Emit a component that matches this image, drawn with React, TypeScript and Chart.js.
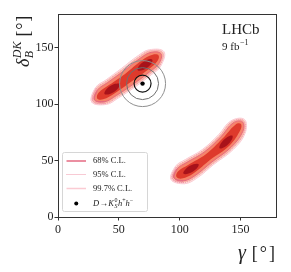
import React, { useEffect, useRef } from 'react';
import { Chart, registerables } from 'chart.js';

Chart.register(...registerables);

// ---------- data (gamma [deg], delta_B^DK [deg]) ----------
const xTickValues = [0, 50, 100, 150];
const yTickValues = [0, 50, 100, 150];
const axisMin = 0;
const axisMax = 180;

// D -> K0S h+ h- measurement
const pointGamma = [69.5];
const pointDelta = [118.3];

type Pt = [number, number];

// upper-left solution
const upperCL997: Pt[] = [[27.7, 102.0], [39.7, 99.8], [49.4, 105.4], [63.0, 115.0], [77.1, 126.5], [84.4, 133.7], [87.1, 146.6], [75.0, 148.3], [65.9, 143.1], [52.0, 131.6], [39.5, 121.6], [30.9, 114.8]];
const upperCL95: Pt[] = [[28.7, 102.7], [39.2, 100.7], [48.8, 106.3], [62.4, 116.0], [76.4, 127.5], [83.8, 134.6], [86.1, 145.9], [75.6, 147.4], [66.6, 142.1], [52.7, 130.6], [40.0, 120.7], [31.4, 113.9]];
const upperCL68: Pt[] = [[30.1, 103.7], [38.3, 102.2], [47.9, 107.7], [61.4, 117.4], [75.5, 128.9], [82.9, 136.0], [84.7, 144.8], [76.5, 146.0], [67.5, 140.7], [53.6, 129.2], [40.9, 119.3], [32.3, 112.4]];
const upperCore: Pt[] = [[32.2, 105.1], [37.1, 104.3], [46.7, 109.8], [59.9, 119.7], [74.2, 130.8], [81.6, 138.1], [82.7, 143.3], [77.8, 143.9], [68.8, 138.8], [55.1, 126.9], [42.2, 117.2], [33.5, 110.3]];
const upperPeakA: Pt[] = [[50.6, 117.9], [48.9, 113.5], [42.7, 109.1], [38.2, 109.1], [40.0, 113.5], [46.2, 117.9]];
const upperPeakB: Pt[] = [[77.5, 139.5], [76.0, 135.0], [70.0, 130.3], [65.5, 130.1], [67.0, 134.6], [73.0, 139.3]];

// lower-right solution
const lowerCL997: Pt[] = [[93.0, 33.3], [103.9, 29.5], [114.0, 34.3], [128.0, 46.6], [144.1, 59.9], [153.8, 74.3], [153.3, 86.5], [142.2, 85.3], [132.1, 73.1], [118.6, 59.8], [104.6, 50.9], [96.7, 45.1]];
const lowerCL95: Pt[] = [[94.0, 33.9], [103.4, 30.6], [113.4, 35.4], [127.4, 47.4], [143.3, 60.8], [153.1, 75.0], [152.6, 85.6], [142.9, 84.6], [132.9, 72.2], [119.2, 59.0], [105.2, 49.9], [97.2, 44.0]];
const lowerCL68: Pt[] = [[95.4, 34.6], [102.8, 32.0], [112.6, 36.7], [126.5, 48.8], [142.3, 61.9], [152.0, 76.1], [151.6, 84.4], [144.0, 83.5], [133.9, 71.1], [120.2, 57.6], [106.0, 48.5], [97.8, 42.6]];
const lowerCore: Pt[] = [[97.3, 35.7], [101.8, 34.1], [111.5, 38.8], [125.1, 50.7], [141.0, 63.4], [150.2, 77.7], [150.2, 82.6], [145.8, 81.9], [135.2, 69.6], [121.5, 55.7], [107.2, 46.4], [98.8, 40.5]];
const lowerPeakA: Pt[] = [[115.6, 46.7], [113.6, 42.6], [107.3, 38.5], [103.0, 38.5], [105.0, 42.6], [111.3, 46.7]];
const lowerPeakB: Pt[] = [[143.4, 72.1], [142.3, 67.6], [137.0, 62.0], [132.8, 60.9], [133.9, 65.4], [139.2, 71.0]];

const legendLabels = ['68% C.L.', '95% C.L.', '99.7% C.L.'];
const experimentLabel = 'LHCb';
const lumiLabel = '9 fb';
const lumiExponent = '\u22121';

// ---------- styles ----------
const SERIF = '"Liberation Serif", "DejaVu Serif", serif';
const TEXT = '#222';
const C68 = '#e46a82';
const C95 = '#f094a9';
const C997 = '#fbcbd3';
const F997 = '#fee4de';
const F95 = '#fcb7a4';
const F68 = '#f5836a';
const FCORE = '#de3a2c';
const FPEAK = '#a8121a';

const loop = (pts: Pt[]) => {
  const d = pts.map(([x, y]) => ({ x, y }));
  return [d[d.length - 1], ...d, d[0], d[1]];
};

const contour = (pts: Pt[], fill: string, line: string, width: number, dash: number[], order: number) => ({
  data: loop(pts),
  showLine: true,
  fill: 'shape',
  backgroundColor: fill,
  borderColor: line,
  borderWidth: width,
  borderDash: dash,
  tension: 0.4,
  pointRadius: 0,
  pointHoverRadius: 0,
  order,
});

const ring = (r: number, color: string, w: number, order: number) => ({
  data: pointGamma.map((g, i) => ({ x: g, y: pointDelta[i] })),
  showLine: false,
  pointRadius: r,
  pointHoverRadius: r,
  pointStyle: 'circle',
  backgroundColor: 'rgba(0,0,0,0)',
  borderColor: color,
  pointBorderWidth: w,
  borderWidth: w,
  order,
});

type Piece = { t: string; font: string; dy?: number; gap?: number; sub?: string; subFont?: string; subDy?: number };

function drawPieces(ctx: CanvasRenderingContext2D, pieces: Piece[], x: number, y: number) {
  for (const p of pieces) {
    ctx.font = p.font;
    ctx.fillText(p.t, x, y + (p.dy || 0));
    let w = ctx.measureText(p.t).width;
    if (p.sub !== undefined) {
      ctx.font = p.subFont || p.font;
      ctx.fillText(p.sub, x, y + (p.subDy || 0));
      w = Math.max(w, ctx.measureText(p.sub).width);
    }
    x += w + (p.gap || 0);
  }
  return x;
}

function piecesWidth(ctx: CanvasRenderingContext2D, pieces: Piece[]) {
  let w = 0;
  for (const p of pieces) {
    ctx.font = p.font;
    let pw = ctx.measureText(p.t).width;
    if (p.sub !== undefined) {
      ctx.font = p.subFont || p.font;
      pw = Math.max(pw, ctx.measureText(p.sub).width);
    }
    w += pw + (p.gap || 0);
  }
  return w;
}

const overlay = {
  id: 'overlay',
  afterDraw(chart: any) {
    const { ctx, chartArea: a } = chart;
    ctx.save();
    // frame
    ctx.strokeStyle = '#333';
    ctx.lineWidth = 1;
    ctx.strokeRect(Math.round(a.left) + 0.5, Math.round(a.top) + 0.5, Math.round(a.right - a.left) - 1, Math.round(a.bottom - a.top));

    ctx.fillStyle = TEXT;
    ctx.textBaseline = 'alphabetic';
    ctx.textAlign = 'left';

    // LHCb label
    ctx.font = `15px ${SERIF}`;
    ctx.fillText(experimentLabel, a.right - 55, a.top + 20);
    ctx.font = `11px ${SERIF}`;
    ctx.fillText(lumiLabel, a.right - 55, a.top + 36);
    const lw = ctx.measureText(lumiLabel).width;
    ctx.font = `8px ${SERIF}`;
    ctx.fillText(lumiExponent, a.right - 55 + lw + 0.5, a.top + 31);

    // x title
    const xt: Piece[] = [
      { t: '\u03b3', font: `italic 20px ${SERIF}`, gap: 6 },
      { t: '[', font: `18px ${SERIF}`, gap: 2 },
      { t: '\u00b0', font: `18px ${SERIF}`, gap: 2 },
      { t: ']', font: `18px ${SERIF}` },
    ];
    const xw = piecesWidth(ctx, xt);
    drawPieces(ctx, xt, a.right - 2 - xw, a.bottom + 42);

    // y title
    ctx.save();
    ctx.translate(29, a.top + 53);
    ctx.rotate(-Math.PI / 2);
    const yt: Piece[] = [
      { t: '\u03b4', font: `italic 18px ${SERIF}`, gap: 0.5 },
      { t: 'DK', font: `italic 12px ${SERIF}`, dy: -8, sub: 'B', subFont: `italic 12px ${SERIF}`, subDy: 4, gap: 5 },
      { t: '[', font: `18px ${SERIF}`, gap: 0.8 },
      { t: '\u00b0', font: `18px ${SERIF}`, gap: 0.8 },
      { t: ']', font: `18px ${SERIF}` },
    ];
    drawPieces(ctx, yt, 0, 0);
    ctx.restore();

    // legend
    const bx = a.left + 4.5;
    const by = a.bottom - 64.5;
    ctx.beginPath();
    if ((ctx as any).roundRect) (ctx as any).roundRect(bx, by, 85, 59, 2);
    else ctx.rect(bx, by, 85, 59);
    ctx.fillStyle = 'rgba(255,255,255,0.85)';
    ctx.fill();
    ctx.strokeStyle = '#d6d6d6';
    ctx.lineWidth = 1;
    ctx.stroke();

    const rows = [a.bottom - 56, a.bottom - 42.5, a.bottom - 28.5, a.bottom - 13.5];
    const lx0 = a.left + 8.5;
    const lx1 = a.left + 28;
    const styles = [
      { c: C68, w: 1.5, d: [] as number[] },
      { c: C95, w: 1.2, d: [1, 1] },
      { c: C997, w: 1.5, d: [] as number[] },
    ];
    styles.forEach((s, i) => {
      ctx.beginPath();
      ctx.strokeStyle = s.c;
      ctx.lineWidth = s.w;
      ctx.setLineDash(s.d);
      ctx.moveTo(lx0, rows[i]);
      ctx.lineTo(lx1, rows[i]);
      ctx.stroke();
    });
    ctx.setLineDash([]);
    ctx.fillStyle = '#000';
    ctx.beginPath();
    ctx.arc((lx0 + lx1) / 2, rows[3], 2, 0, Math.PI * 2);
    ctx.fill();

    ctx.fillStyle = TEXT;
    ctx.textBaseline = 'middle';
    const tx = a.left + 35;
    ctx.font = `8.5px ${SERIF}`;
    legendLabels.forEach((t, i) => ctx.fillText(t, tx, rows[i]));
    const small = `6px ${SERIF}`;
    const it = `italic 8.5px ${SERIF}`;
    drawPieces(ctx, [
      { t: 'D', font: it, gap: 0.3 },
      { t: '\u2192', font: `8.5px ${SERIF}`, gap: 0.3 },
      { t: 'K', font: it, gap: 0.5 },
      { t: '0', font: small, dy: -3, sub: 'S', subFont: `italic 6px ${SERIF}`, subDy: 2.5, gap: 0.5 },
      { t: 'h', font: it },
      { t: '+', font: small, dy: -3 },
      { t: 'h', font: it },
      { t: '\u2212', font: small, dy: -3 },
    ], tx, rows[3]);
    ctx.restore();
  },
};

const zeroPadding = (s: any) => {
  s.paddingTop = 0;
  s.paddingBottom = 0;
  s.paddingLeft = 0;
  s.paddingRight = 0;
};

export default function App() {
  const ref = useRef<HTMLCanvasElement>(null);
  useEffect(() => {
    const canvas = ref.current;
    if (!canvas) return;
    const tickFont = { family: SERIF, size: 12 };
    const chart = new Chart(canvas, {
      type: 'scatter',
      data: {
        datasets: [
          contour(upperCL997, F997, C997, 1, [], 20) as any,
          contour(lowerCL997, F997, C997, 1, [], 20) as any,
          contour(upperCL95, F95, C95, 1, [1, 1], 19) as any,
          contour(lowerCL95, F95, C95, 1, [1, 1], 19) as any,
          contour(upperCL68, F68, C68, 1, [], 18) as any,
          contour(lowerCL68, F68, C68, 1, [], 18) as any,
          contour(upperCore, FCORE, FCORE, 0, [], 17) as any,
          contour(lowerCore, FCORE, FCORE, 0, [], 17) as any,
          contour(upperPeakA, FPEAK, FPEAK, 0, [], 16) as any,
          contour(upperPeakB, FPEAK, FPEAK, 0, [], 16) as any,
          contour(lowerPeakA, FPEAK, FPEAK, 0, [], 16) as any,
          contour(lowerPeakB, FPEAK, FPEAK, 0, [], 16) as any,
          ring(23, '#8f8f8f', 1, 4) as any,
          ring(16, '#707070', 1, 3) as any,
          ring(8.5, '#111', 1.2, 2) as any,
          {
            data: pointGamma.map((g, i) => ({ x: g, y: pointDelta[i] })),
            pointRadius: 2.2,
            pointHoverRadius: 2.2,
            backgroundColor: '#000',
            borderColor: '#000',
            borderWidth: 0,
            order: 1,
          } as any,
        ],
      },
      options: {
        responsive: false,
        animation: false,
        events: [],
        layout: { autoPadding: false, padding: { top: 14, right: 14, left: 0, bottom: 0 } },
        plugins: { legend: { display: false }, tooltip: { enabled: false } },
        scales: {
          x: {
            type: 'linear',
            min: axisMin,
            max: axisMax,
            afterBuildTicks: (s: any) => { s.ticks = xTickValues.map((v) => ({ value: v })); },
            afterFit: (s: any) => { s.height = 55; zeroPadding(s); },
            grid: { display: true, drawOnChartArea: false, drawTicks: true, tickLength: 3.5, color: '#333', lineWidth: 1 },
            border: { display: false },
            ticks: { font: tickFont, color: TEXT, padding: 2, maxRotation: 0, autoSkip: false },
          },
          y: {
            type: 'linear',
            min: axisMin,
            max: axisMax,
            afterBuildTicks: (s: any) => { s.ticks = yTickValues.map((v) => ({ value: v })); },
            afterFit: (s: any) => { s.width = 58; zeroPadding(s); },
            grid: { display: true, drawOnChartArea: false, drawTicks: true, tickLength: 3.5, color: '#333', lineWidth: 1 },
            border: { display: false },
            ticks: { font: tickFont, color: TEXT, padding: 1, autoSkip: false },
          },
        },
      },
      plugins: [overlay as any],
    });
    return () => chart.destroy();
  }, []);
  return (
    <div style={{ position: 'fixed', left: 0, top: 0, width: 291, height: 272, background: '#fff' }}>
      <canvas ref={ref} width={291} height={272} style={{ display: 'block', width: 291, height: 272 }} />
    </div>
  );
}
